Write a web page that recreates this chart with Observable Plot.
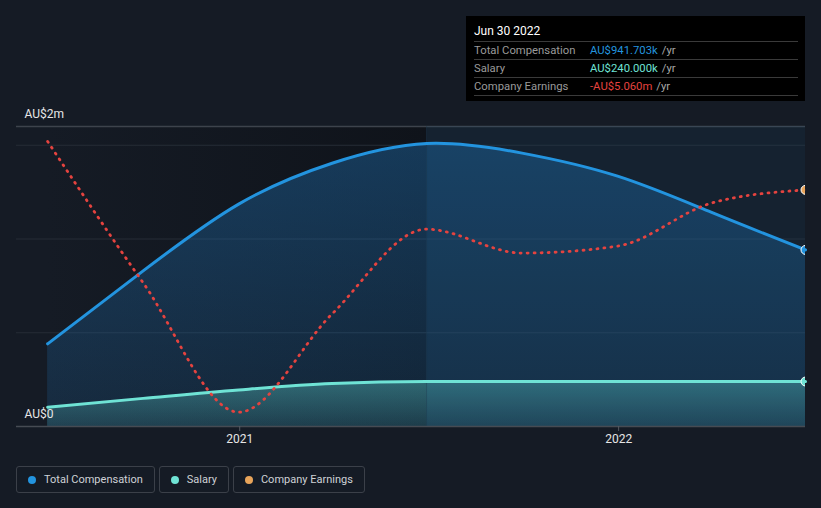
<!DOCTYPE html>
<html>
<head>
<meta charset="utf-8">
<script src="https://cdn.jsdelivr.net/npm/d3@7"></script>
<script src="https://cdn.jsdelivr.net/npm/@observablehq/plot@0.6"></script>
<style>
  html, body { margin: 0; padding: 0; background: #151b25; }
  body { width: 821px; height: 508px; overflow: hidden; font-family: Roboto, "Open Sans", sans-serif; }
  #wrap { position: relative; width: 821px; height: 508px; }
  #chart { position: absolute; left: 0; top: 0; }
  #tip { position: absolute; left: 466px; top: 16px; width: 339px; height: 85px; background: #000; box-sizing: border-box; padding: 0 7px 0 8px; }
  #tip .title { color: #fff; font-size: 12px; font-weight: normal; height: 25px; line-height: 30px; }
  #tip .row { border-top: 1px solid #3a3a3a; height: 17px; line-height: 17px; font-size: 11.3px; color: #9a9a9a; display: flex; }
  #tip .row:last-child { border-bottom: 1px solid #3a3a3a; }
  #tip .lab { width: 116px; }
  #tip .unit { color: #a8a8a8; margin-left: 4px; }
  #legend { position: absolute; left: 16px; top: 466px; display: flex; gap: 4px; }
  .btn { height: 27px; box-sizing: border-box; border: 1px solid #3b4049; border-radius: 3px; display: flex; align-items: center; padding: 0 11px 0 11px; color: #cfd2d6; font-size: 11px; }
  .btn .dot { width: 8px; height: 8px; border-radius: 50%; margin-right: 8px; }
</style>
</head>
<body>
<div id="wrap">
  <div id="chart"></div>
  <div id="tip"></div>
  <div id="legend"></div>
</div>
<script>
// ---- data (AU$ millions) ----
const dates = ["2020-06-30","2020-09-30","2020-12-31","2021-03-31","2021-06-30","2021-09-30","2021-12-31","2022-03-31","2022-06-30"];
const totalComp = [0.441, 0.830, 1.186, 1.404, 1.509, 1.458, 1.335, 1.143, 0.9417];
const salary    = [0.103, 0.150, 0.195, 0.229, 0.240, 0.240, 0.240, 0.240, 0.240];
const earnings  = [-2.63, -9.72, -16.21, -11.28, -7.03, -8.23, -7.88, -5.73, -5.06];
const earnAxisDomain = [-16.93, -1.88];     // secondary (earnings) axis, AU$m
const yDomain = [0, 1.6];
const gridValues = [0.5, 1.0, 1.5];
const yLabels = [{v: 1.6, t: "AU$2m"}, {v: 0, t: "AU$0"}];
const xTicks = ["2021-01-01", "2022-01-01"];
const xDomain = ["2020-05-31", "2022-06-30"];
const highlightRange = ["2021-06-30", "2022-06-30"];
const seriesNames = ["Total Compensation", "Salary", "Company Earnings"];
const seriesColors = ["#2394df", "#6fe3d5", "#e8a45a"];
const earnLineColor = "#e5433f";
const tipTitle = "Jun 30 2022";
const tipValues = ["AU$941.703k", "AU$240.000k", "-AU$5.060m"];
const tipColors = ["#2394df", "#6fe3d5", "#e5433f"];

const parse = d3.utcParse("%Y-%m-%d");
const earnToY = d3.scaleLinear().domain(earnAxisDomain).range(yDomain);
const data = dates.map((d, i) => ({
  date: parse(d), comp: totalComp[i], salary: salary[i], earn: earnToY(earnings[i])
}));
const last = data[data.length - 1];

const chart = Plot.plot({
  width: 821,
  height: 456,
  marginTop: 126,
  marginBottom: 30,
  marginLeft: 16,
  marginRight: 16,
  style: { background: "transparent", fontFamily: "Roboto, 'Open Sans', sans-serif" },
  x: { type: "utc", domain: xDomain.map(parse) },
  y: { domain: yDomain, axis: null },
  marks: [
    Plot.rect([{a: parse(dates[0]), b: parse(highlightRange[0])}], {x1: "a", x2: "b", y1: yDomain[0], y2: yDomain[1], fill: "url(#bgLeft)"}),
    Plot.ruleY(gridValues, {stroke: "#262c36", strokeWidth: 1}),
    Plot.ruleY([yDomain[1]], {stroke: "#3d434c", strokeWidth: 1.5}),
    Plot.areaY(data, {x: "date", y: "comp", fill: "url(#gradComp)", curve: "natural"}),
    Plot.areaY(data, {x: "date", y: "salary", fill: "url(#gradSal)", curve: "monotone-x"}),
    Plot.rect([{a: parse(highlightRange[0]), b: parse(highlightRange[1])}], {x1: "a", x2: "b", y1: yDomain[0], y2: yDomain[1], fill: "#1a6aa8", fillOpacity: 0.09}),
    Plot.ruleX([parse(highlightRange[0])], {stroke: "#1c3346", strokeOpacity: 0.35}),
    Plot.ruleY([0], {stroke: "#464b53", strokeWidth: 1.5}),
    Plot.axisX(xTicks.map(parse), {tickFormat: d3.utcFormat("%Y"), tickSize: 5, tickPadding: 3, stroke: "#555a62", color: "#e6e6e6", fontSize: 12}),
    Plot.lineY(data, {x: "date", y: "salary", stroke: seriesColors[1], strokeWidth: 3, curve: "monotone-x"}),
    Plot.lineY(data, {x: "date", y: "comp", stroke: seriesColors[0], strokeWidth: 3, curve: "natural"}),
    Plot.lineY(data, {x: "date", y: "earn", stroke: earnLineColor, strokeWidth: 2.8, strokeDasharray: "1 6", strokeLinecap: "round", curve: "monotone-x"}),
    Plot.dot([last], {x: "date", y: "comp", r: 4.5, fill: seriesColors[0], stroke: "#fff", strokeWidth: 1, clip: true}),
    Plot.dot([last], {x: "date", y: "salary", r: 4.5, fill: seriesColors[1], stroke: "#fff", strokeWidth: 1, clip: true}),
    Plot.dot([last], {x: "date", y: "earn", r: 4.5, fill: seriesColors[2], stroke: "#fff", strokeWidth: 1, clip: true}),
    Plot.text(yLabels, {x: parse(xDomain[0]), y: "v", text: "t", textAnchor: "start", dx: 8, dy: -12, fill: "#e6e6e6", fontSize: 12})
  ]
});

// gradient definitions
const svg = d3.select(chart);
const defs = svg.insert("defs", ":first-child");
function vgrad(id, color, o1, o2) {
  const g = defs.append("linearGradient").attr("id", id).attr("x1", 0).attr("y1", 0).attr("x2", 0).attr("y2", 1);
  g.append("stop").attr("offset", "0%").attr("stop-color", color).attr("stop-opacity", o1);
  g.append("stop").attr("offset", "100%").attr("stop-color", color).attr("stop-opacity", o2);
}
vgrad("gradComp", "#1f6fb0", 0.42, 0.18);
vgrad("gradSal", "#5fd4cf", 0.38, 0.14);
const h = defs.append("linearGradient").attr("id", "bgLeft").attr("x1", 0).attr("y1", 0).attr("x2", 1).attr("y2", 0);
h.append("stop").attr("offset", "0%").attr("stop-color", "#151b25");
h.append("stop").attr("offset", "100%").attr("stop-color", "#0f131a");

document.getElementById("chart").appendChild(chart);

// tooltip
const tip = d3.select("#tip");
tip.append("div").attr("class", "title").text(tipTitle);
seriesNames.forEach((n, i) => {
  const r = tip.append("div").attr("class", "row");
  r.append("span").attr("class", "lab").text(n);
  r.append("span").style("color", tipColors[i]).text(tipValues[i]);
  r.append("span").attr("class", "unit").text("/yr");
});

// legend
const lg = d3.select("#legend");
seriesNames.forEach((n, i) => {
  const b = lg.append("div").attr("class", "btn");
  b.append("span").attr("class", "dot").style("background", seriesColors[i]);
  b.append("span").text(n);
});
</script>
</body>
</html>
